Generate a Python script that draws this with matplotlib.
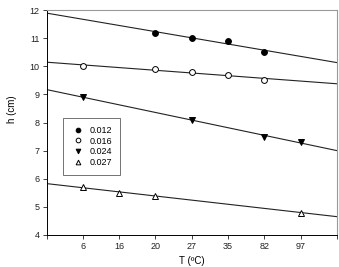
import numpy as np
from matplotlib import pyplot as plt

plt.rcParams["font.family"] = ["Liberation Sans", "DejaVu Sans"]

temps = ["6", "16", "20", "27", "35", "82", "97"]

# series: (temperature labels, h values)
t_012 = ["20", "27", "35", "82"]
h_012 = [11.2, 11.0, 10.9, 10.5]
t_016 = ["6", "20", "27", "35", "82"]
h_016 = [10.0, 9.9, 9.8, 9.7, 9.5]
t_024 = ["6", "27", "82", "97"]
h_024 = [8.9, 8.1, 7.5, 7.3]
t_027 = ["6", "16", "20", "97"]
h_027 = [5.7, 5.5, 5.4, 4.8]

labels = ["0.012", "0.016", "0.024", "0.027"]
styles = [
    dict(marker="o", mfc="black", mec="black"),
    dict(marker="o", mfc="white", mec="black"),
    dict(marker="v", mfc="black", mec="black"),
    dict(marker="^", mfc="white", mec="black"),
]

fig = plt.figure(figsize=(3.39, 2.67), dpi=100)
ax = fig.add_axes([46.5 / 339, 1 - 235 / 267, (337 - 46.5) / 339, (235 - 10) / 267])

xfit = np.array([0, len(temps) + 1])
for t, h, lab, st in zip([t_012, t_016, t_024, t_027], [h_012, h_016, h_024, h_027], labels, styles):
    x = np.array([temps.index(v) + 1 for v in t])
    k, b = np.polyfit(x, h, 1)
    ax.plot(xfit, k * xfit + b, color="#222222", lw=0.8, zorder=1)
    ax.plot(x, h, ls="none", ms=4.2, mew=0.7, label=lab, zorder=2, **st)

ax.set_xlim(0, len(temps) + 1)
ax.set_ylim(4, 12)
ax.set_xticks(range(0, len(temps) + 2))
ax.set_xticklabels([""] + temps + [""])
ax.set_yticks(range(4, 13))
ax.tick_params(labelsize=6.5, length=3, width=0.6, pad=2, colors="#222222")
for side in ["left", "bottom"]:
    ax.spines[side].set_linewidth(0.7)
for side in ["top", "right"]:
    ax.spines[side].set_color("#999999")
    ax.spines[side].set_linewidth(0.8)

ax.set_xlabel("T (ºC)", fontsize=7, labelpad=4)
ax.set_ylabel("h (cm)", fontsize=7)
ax.yaxis.set_label_coords(-0.1, 0.56)

leg = ax.legend(loc="upper left", bbox_to_anchor=(0.057, 0.521), borderaxespad=0,
                fontsize=6.5, markerscale=0.8,
                frameon=True, fancybox=False, edgecolor="#333333",
                handlelength=1.4, handletextpad=0.6, borderpad=0.9, labelspacing=0.18)
leg.get_frame().set_linewidth(0.6)

fig.savefig("out.png", dpi=100)
